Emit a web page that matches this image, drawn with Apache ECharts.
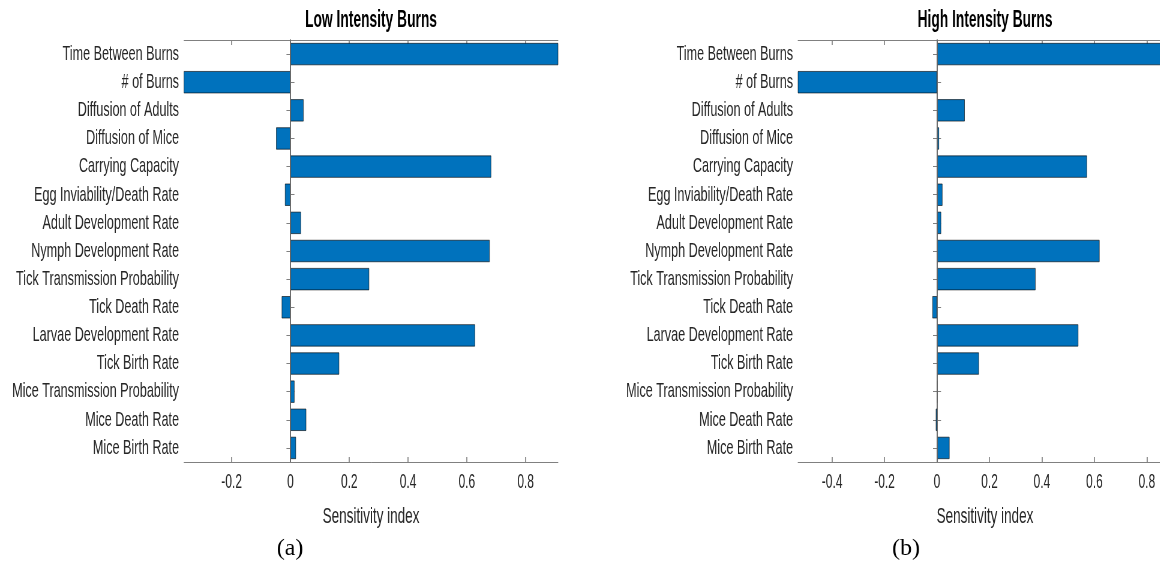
<!DOCTYPE html>
<html>
<head>
<meta charset="utf-8">
<script src="https://cdn.jsdelivr.net/npm/echarts@6/dist/echarts.min.js"></script>
<style>
html, body { margin: 0; padding: 0; background: #fff; overflow: hidden; }
#wrap { width: 1160px; height: 573px; overflow: hidden; position: relative; }
#main { height: 573px; transform-origin: 0 0; }
</style>
</head>
<body>
<div id="wrap"><div id="main"></div></div>
<script>
// parameters, listed top to bottom as in the figure
const categories = [
    'Time Between Burns', '# of Burns', 'Diffusion of Adults', 'Diffusion of Mice',
    'Carrying Capacity', 'Egg Inviability/Death Rate', 'Adult Development Rate',
    'Nymph Development Rate', 'Tick Transmission Probability', 'Tick Death Rate',
    'Larvae Development Rate', 'Tick Birth Rate', 'Mice Transmission Probability',
    'Mice Death Rate', 'Mice Birth Rate'
];
// sensitivity index, low intensity burns (first two run off the axes)
const lowIntensity = [0.93, -0.37, 0.045, -0.049, 0.683, -0.019, 0.036,
    0.678, 0.268, -0.030, 0.628, 0.166, 0.014, 0.054, 0.019];
// sensitivity index, high intensity burns
const highIntensity = [0.92, -0.55, 0.106, 0.008, 0.572, 0.021, 0.016,
    0.620, 0.376, -0.018, 0.539, 0.160, 0.001, -0.005, 0.048];
const lowTicks = [-0.2, 0, 0.2, 0.4, 0.6, 0.8];
const highTicks = [-0.4, -0.2, 0, 0.2, 0.4, 0.6, 0.8];
const lowRange = [-0.362, 0.910];
const highRange = [-0.530, 0.896];

// the reference figure is squeezed sideways, so draw wide and scale down
const SX = 0.6;
const px = v => v / SX;
const main = document.getElementById('main');
main.style.width = px(1200) + 'px';   // a bit wider than the page: right panel runs off the edge
main.style.transform = 'scaleX(' + SX + ')';

const FONT = '"Liberation Sans", Arial, sans-serif';
const TXT = '#262626';
const LINE = '#808080';
const BLUE = '#0072BD';

function panel(i, vals, ticks, range, left) {
    const grid = { left: px(left), top: 40, width: px(374), height: 422 };
    const xAxes = [
        {
            gridIndex: i, type: 'value', position: 'bottom',
            min: range[0], max: range[1],
            axisLine: { show: true, lineStyle: { color: LINE, width: 1 } },
            axisTick: { show: true, inside: true, length: 5, customValues: ticks,
                lineStyle: { color: LINE, width: px(1) } },
            axisLabel: { customValues: ticks, margin: 10, color: TXT, fontSize: 20, fontFamily: FONT },
            splitLine: { show: false },
            name: 'Sensitivity index', nameLocation: 'middle', nameGap: 43,
            nameTextStyle: { color: TXT, fontSize: 22.5, fontFamily: FONT }
        },
        {
            gridIndex: i, type: 'value', position: 'top',
            min: range[0], max: range[1],
            axisLine: { show: true, lineStyle: { color: LINE, width: 1 } },
            axisTick: { show: true, inside: true, length: 5, customValues: ticks,
                lineStyle: { color: LINE, width: px(1) } },
            axisLabel: { show: false },
            splitLine: { show: false }
        }
    ];
    const yAxes = [
        {
            gridIndex: i, type: 'category', data: categories, inverse: true, position: 'left',
            axisLine: { show: true, lineStyle: { color: LINE, width: px(1) } },
            axisTick: { show: true, inside: true, alignWithLabel: true, length: px(4),
                lineStyle: { color: LINE, width: 1 } },
            axisLabel: { margin: px(5), color: TXT, fontSize: 21, fontFamily: FONT }
        },
        {
            gridIndex: i, type: 'category', data: categories, inverse: true, position: 'right',
            axisLine: { show: true, lineStyle: { color: LINE, width: px(1) } },
            axisTick: { show: true, inside: true, alignWithLabel: true, length: px(4),
                lineStyle: { color: LINE, width: 1 } },
            axisLabel: { show: false }
        }
    ];
    const series = {
        type: 'bar', xAxisIndex: i * 2, yAxisIndex: i * 2,
        data: vals, barWidth: '80%', clip: true,
        itemStyle: { color: BLUE, borderColor: 'rgba(0,0,0,0.6)', borderWidth: 1 },
        markLine: {
            silent: true, symbol: 'none', label: { show: false },
            lineStyle: { color: '#6a6a6a', width: px(1), type: 'solid' },
            data: [{ xAxis: 0 }]
        }
    };
    return { grid, xAxes, yAxes, series };
}

const a = panel(0, lowIntensity, lowTicks, lowRange, 184);
const b = panel(1, highIntensity, highTicks, highRange, 798);

let chart = echarts.init(main, null, { renderer: 'canvas' });
chart.setOption({
    animation: false,
    backgroundColor: '#fff',
    grid: [a.grid, b.grid],
    xAxis: a.xAxes.concat(b.xAxes),
    yAxis: a.yAxes.concat(b.yAxes),
    series: [a.series, b.series],
    graphic: [
        { type: 'text', x: px(371), y: 21, style: { text: 'Low Intensity Burns', fill: '#000',
            font: 'bold 23px ' + FONT, textAlign: 'center', textVerticalAlign: 'middle' } },
        { type: 'text', x: px(985), y: 21, style: { text: 'High Intensity Burns', fill: '#000',
            font: 'bold 23px ' + FONT, textAlign: 'center', textVerticalAlign: 'middle' } },
        { type: 'text', x: px(290), y: 549, scaleX: 1 / SX, style: { text: '(a)', fill: '#000',
            font: '24px "Liberation Serif", serif', textAlign: 'center', textVerticalAlign: 'middle' } },
        { type: 'text', x: px(906), y: 549, scaleX: 1 / SX, style: { text: '(b)', fill: '#000',
            font: '24px "Liberation Serif", serif', textAlign: 'center', textVerticalAlign: 'middle' } }
    ]
});
</script>
</body>
</html>
